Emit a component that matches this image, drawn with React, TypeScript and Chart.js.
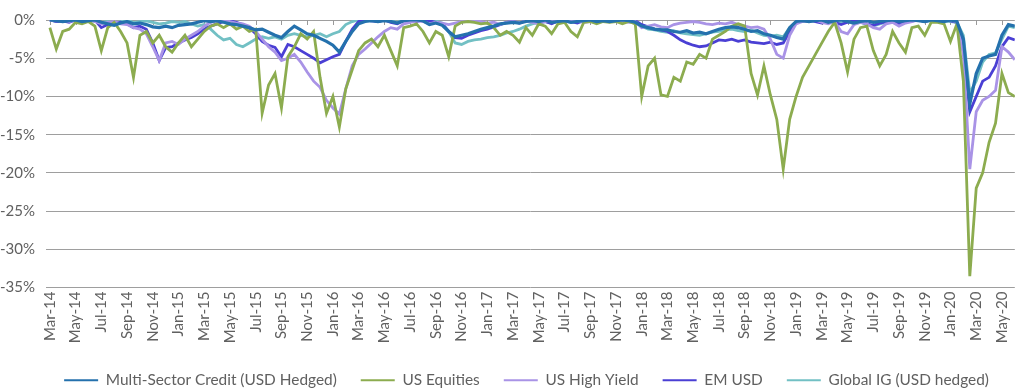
import React, { useEffect, useRef } from 'react';
import { Chart, registerables } from 'chart.js';

Chart.register(...registerables);

// x positions: one value every half month, starting Mar-14 (month 0)
const STEP_MONTHS = 0.5;

const tickLabels = [
  'Mar-14', 'May-14', 'Jul-14', 'Sep-14', 'Nov-14',
  'Jan-15', 'Mar-15', 'May-15', 'Jul-15', 'Sep-15', 'Nov-15',
  'Jan-16', 'Mar-16', 'May-16', 'Jul-16', 'Sep-16', 'Nov-16',
  'Jan-17', 'Mar-17', 'May-17', 'Jul-17', 'Sep-17', 'Nov-17',
  'Jan-18', 'Mar-18', 'May-18', 'Jul-18', 'Sep-18', 'Nov-18',
  'Jan-19', 'Mar-19', 'May-19', 'Jul-19', 'Sep-19', 'Nov-19',
  'Jan-20', 'Mar-20', 'May-20',
];

const multiSector = [
  0, -0.1, -0.2, -0.1, 0, -0.2, -0.1, 0, -0.3, -0.5,
  -0.7, -0.4, -0.2, -0.5, -0.4, -0.6, -0.9, -1.0, -0.8, -1.0,
  -0.7, -0.6, -0.5, -0.3, -0.1, -0.2, -0.1, -0.3, -0.5, -0.6,
  -0.8, -1.0, -1.3, -1.2, -1.6, -2.0, -2.3, -1.5, -0.8, -1.3,
  -1.8, -2.0, -2.4, -2.8, -3.3, -4.2, -2.8, -1.5, -0.5, -0.2,
  -0.1, -0.2, -0.1, -0.2, -0.4, -0.1, 0, 0, -0.1, -0.6,
  -0.4, -0.7, -1.5, -2.2, -2.0, -1.8, -1.5, -1.2, -1.0, -0.8,
  -0.5, -0.4, -0.3, -0.4, -0.2, -0.1, -0.2, 0, -0.3, -0.2,
  -0.1, -0.3, -0.2, -0.1, 0, -0.2, -0.1, -0.2, -0.1, 0,
  -0.1, -0.3, -0.8, -1.0, -1.2, -1.3, -1.3, -1.5, -1.6, -1.4,
  -1.7, -1.6, -1.8, -1.5, -1.2, -1.0, -0.9, -1.0, -1.2, -1.5,
  -1.4, -1.8, -2.0, -2.3, -2.5, -1.0, -0.2, -0.1, -0.2, -0.1,
  0, -0.3, -0.1, 0, -0.2, -0.4, -0.2, -0.1, -0.3, -0.2,
  -0.1, 0, -0.2, -0.1, 0, -0.1, -0.2, 0, -0.1, -0.2,
  0, -0.2, -2.5, -11.0, -7.0, -5.0, -4.7, -4.5, -2.0, -0.6,
  -0.8,
];

const usEquities = [
  -1.0, -3.8, -1.5, -1.2, -0.3, -0.5, -0.2, -0.8, -4.0, -1.0,
  -0.3, -1.5, -3.0, -7.5, -2.0, -1.5, -3.0, -2.0, -3.5, -4.2,
  -3.0, -2.0, -3.5, -2.5, -1.5, -0.8, -0.5, -1.0, -0.5, -1.2,
  -0.8, -1.5, -1.2, -12.2, -8.5, -7.0, -11.5, -4.8, -3.5, -1.8,
  -2.5, -1.5, -7.5, -12.2, -10.0, -14.0, -9.0, -6.5, -4.0, -3.0,
  -2.5, -3.5, -2.0, -4.0, -6.0, -1.0, -0.8, -0.5, -1.5, -3.0,
  -1.5, -2.0, -4.8, -0.8, -0.3, -0.2, -0.3, -0.5, -0.4, -1.0,
  -2.0, -1.5, -2.0, -2.9, -1.0, -2.0, -0.5, -0.8, -1.8, -0.5,
  -0.3, -1.5, -2.2, -0.3, -0.2, -0.5, -0.2, -0.3, -0.2, -0.5,
  -0.2, -0.5, -10.0, -6.0, -5.0, -9.8, -10.0, -7.5, -8.0, -5.5,
  -5.8, -4.5, -5.0, -2.5, -2.0, -1.5, -0.8, -0.5, -0.8, -7.0,
  -9.8, -6.0, -9.8, -13.0, -19.5, -13.0, -10.0, -7.5, -6.0, -4.5,
  -3.0, -1.5, -0.3, -3.0, -6.8, -2.5, -1.0, -0.8, -4.0, -6.0,
  -4.5, -1.5, -3.0, -4.2, -1.0, -0.8, -2.0, -0.3, -0.3, -0.5,
  -2.8, -0.5, -8.0, -33.5, -22.0, -20.0, -16.0, -13.5, -7.0, -9.5,
  -10.0,
];

const usHighYield = [
  0, -0.1, 0, -0.2, 0, -0.1, 0, -0.2, -0.5, -0.3,
  -0.2, -0.5, -0.6, -1.0, -1.2, -1.8, -3.5, -5.3, -3.0, -2.8,
  -3.2, -2.5, -2.0, -1.5, -0.8, -0.3, -0.1, 0, -0.2, -0.4,
  -0.5, -0.8, -1.5, -2.5, -3.5, -4.2, -5.3, -5.0, -4.5, -5.5,
  -6.8, -8.0, -8.8, -10.5, -11.5, -12.3, -9.0, -6.0, -4.5, -3.8,
  -3.0, -2.2, -1.5, -1.0, -1.2, -0.5, -0.3, -0.1, -0.2, -0.5,
  -0.3, -0.4, -0.6, -0.4, -0.2, -0.1, 0, -0.2, -0.4, -0.3,
  -0.6, -0.3, -0.2, -0.4, -0.1, -0.3, -0.5, -0.2, 0, -0.1,
  -0.2, 0, -0.1, -0.3, -0.2, 0, -0.1, 0, -0.2, -0.1,
  -0.3, -0.2, -1.0, -0.8, -0.6, -0.9, -1.0, -0.6, -0.4, -0.3,
  -0.2, -0.3, -0.5, -0.6, -0.4, -0.5, -0.3, -0.6, -0.8, -1.0,
  -0.9, -1.2, -2.5, -4.5, -5.0, -2.0, -0.5, -0.2, -0.1, 0,
  -0.3, -0.5, -0.2, -1.5, -1.8, -0.6, -0.3, -0.5, -1.0, -1.2,
  -0.5, -0.3, -0.8, -0.4, -0.2, 0, -0.1, 0, -0.2, -0.1,
  0, -0.3, -4.5, -19.5, -12.0, -10.5, -10.0, -9.2, -3.5, -4.2,
  -5.2,
];

const emUsd = [
  0, -0.2, -0.1, -0.3, 0, -0.1, -0.2, 0, -1.0, -0.6,
  -0.4, -0.3, -0.5, -1.0, -0.8, -1.2, -3.0, -5.3, -3.6, -3.5,
  -3.0, -2.6, -2.3, -1.8, -1.2, -0.8, -0.5, -0.2, -0.1, -0.3,
  -0.6, -1.0, -1.8, -2.8, -3.3, -3.6, -4.8, -3.2, -3.5, -4.0,
  -4.5, -5.0, -5.6, -5.2, -4.8, -4.5, -2.8, -1.2, -0.2, 0,
  -0.1, -0.2, 0, -0.3, -0.5, -0.1, 0, -0.2, 0, -0.1,
  -0.3, -0.5, -1.5, -2.3, -2.4, -2.0, -1.7, -1.4, -1.2, -0.9,
  -0.6, -0.3, -0.2, -0.4, -0.1, 0, -0.3, -0.2, -0.5, -0.1,
  0, -0.2, -0.4, -0.1, 0, -0.2, -0.1, 0, -0.2, -0.1,
  0, -0.1, -0.6, -0.9, -1.2, -1.3, -1.5, -2.0, -2.6, -3.0,
  -3.3, -3.5, -3.4, -3.0, -2.6, -2.7, -2.5, -2.8, -2.6, -2.9,
  -3.0, -3.1, -2.9, -3.2, -3.0, -1.5, -0.3, -0.1, 0, -0.2,
  -0.4, -0.2, -0.3, -0.6, -0.3, -0.1, -0.2, -0.5, -0.7, -0.4,
  -0.2, -0.3, -0.5, -0.2, -0.1, 0, -0.2, 0, -0.1, 0,
  -0.1, -0.3, -3.5, -12.0, -10.0, -8.0, -7.5, -6.0, -3.5, -2.3,
  -2.6,
];

const globalIG = [
  0, -0.2, -0.1, 0, -0.1, 0, -0.2, -0.1, -0.3, -0.2,
  -0.4, -0.2, 0, -0.3, -0.2, -0.1, -0.3, -0.5, -0.4, -0.2,
  -0.3, -0.2, -0.5, -0.8, -0.6, -1.2, -2.0, -2.6, -2.4, -3.2,
  -3.5, -3.0, -2.5, -2.2, -2.4, -2.2, -2.5, -2.0, -1.8, -2.0,
  -2.2, -2.0, -1.8, -2.2, -1.8, -1.5, -0.6, -0.2, 0, -0.1,
  0, -0.2, 0, -0.1, -0.3, 0, 0, -0.1, 0, -0.2,
  -0.1, -0.4, -1.5, -3.0, -3.2, -2.8, -2.6, -2.5, -2.3, -2.2,
  -2.0, -1.7, -1.5, -1.2, -0.8, -0.5, -0.3, -0.2, -0.4, -0.2,
  -0.1, -0.3, -0.1, 0, -0.2, -0.3, -0.1, -0.2, 0, -0.1,
  -0.2, -0.4, -0.8, -1.2, -1.3, -1.5, -1.6, -1.4, -1.7, -1.8,
  -1.9, -2.0, -1.8, -1.6, -1.5, -1.3, -1.2, -1.4, -1.5, -1.3,
  -1.7, -2.0, -2.1, -2.0, -2.2, -1.0, -0.2, -0.1, -0.2, 0,
  -0.1, -0.3, -0.2, -0.4, -0.2, -0.5, -0.3, -0.6, -0.8, -0.5,
  -0.3, -0.2, -0.4, -0.2, -0.1, 0, -0.2, -0.1, 0, -0.1,
  -0.2, -0.3, -2.0, -9.5, -8.0, -5.5, -4.5, -4.3, -2.5, -0.8,
  -1.0,
];

const seriesNames = [
  'Multi-Sector Credit (USD Hedged)',
  'US Equities',
  'US High Yield',
  'EM USD',
  'Global IG (USD hedged)',
];
const seriesColors = ['#2471ad', '#8cac4f', '#a993e6', '#4a3fd4', '#72c0c4'];
const seriesValues = [multiSector, usEquities, usHighYield, emUsd, globalIG];

const TEXT = '#606060';
const FONT = 'Lato, "Open Sans", sans-serif';

export default function App() {
  const ref = useRef<HTMLCanvasElement | null>(null);

  useEffect(() => {
    document.body.style.margin = '0';
    const canvas = ref.current;
    if (!canvas) return;

    const axisTicksPlugin = {
      id: 'axisTicks',
      afterLayout(chart: any) {
        if (chart.legend) {
          chart.legend.left += 16;
          chart.legend.right += 16;
        }
      },
      beforeDatasetsDraw(chart: any) {
        const xs = chart.scales.x;
        const ys = chart.scales.y;
        const ctx = chart.ctx;
        const y0 = ys.getPixelForValue(0);
        ctx.save();
        ctx.strokeStyle = '#9a9a9a';
        ctx.lineWidth = 1;
        ctx.beginPath();
        tickLabels.forEach((_, i) => {
          const x = Math.round(xs.getPixelForValue(i * 2)) + 0.5;
          ctx.moveTo(x, y0);
          ctx.lineTo(x, y0 + 5);
        });
        ctx.stroke();
        ctx.restore();
      },
    };

    const chart = new Chart(canvas, {
      type: 'line',
      data: {
        datasets: seriesValues.map((vals, si) => ({
          label: seriesNames[si],
          data: vals.map((y, i) => ({ x: i * STEP_MONTHS, y })),
          borderColor: seriesColors[si],
          backgroundColor: seriesColors[si],
          borderWidth: si === 0 ? 3.2 : 2.8,
          pointRadius: 0,
          tension: 0,
          fill: false,
        })),
      },
      options: {
        animation: false,
        responsive: false,
        devicePixelRatio: 1,
        layout: { padding: { top: 10, bottom: -8, left: 0, right: 3 } },
        plugins: {
          tooltip: { enabled: false },
          legend: {
            position: 'bottom',
            labels: {
              boxWidth: 34,
              boxHeight: 2,
              padding: 24,
              color: TEXT,
              font: { family: FONT, size: 15.4 },
              generateLabels: (c: any) =>
                c.data.datasets.map((ds: any, i: number) => ({
                  text: ds.label,
                  fillStyle: ds.borderColor,
                  strokeStyle: ds.borderColor,
                  lineWidth: 0,
                  hidden: false,
                  datasetIndex: i,
                  fontColor: TEXT,
                })),
            },
          },
        },
        scales: {
          x: {
            type: 'linear',
            min: -0.3,
            max: 75,
            afterBuildTicks: (s: any) => {
              s.ticks = tickLabels.map((_, i) => ({ value: i * 2 }));
            },
            afterFit: (s: any) => {
              s.height = 61;
            },
            ticks: {
              autoSkip: false,
              minRotation: 90,
              maxRotation: 90,
              padding: 4,
              color: TEXT,
              font: { family: FONT, size: 15 },
              callback: (v: any) => tickLabels[Math.round(Number(v) / 2)] ?? '',
            },
            grid: { display: false, drawTicks: false },
            border: { display: false },
          },
          y: {
            min: -35,
            max: 0,
            afterFit: (s: any) => {
              s.width = 46;
            },
            ticks: {
              stepSize: 5,
              padding: 11,
              color: TEXT,
              font: { family: FONT, size: 15 },
              callback: (v: any) => `${v}%`,
            },
            grid: { color: '#9e9e9e', lineWidth: 1, drawTicks: false },
            border: { display: false },
          },
        },
      },
      plugins: [axisTicksPlugin],
    } as any);

    return () => chart.destroy();
  }, []);

  return (
    <canvas
      ref={ref}
      width={1024}
      height={390}
      style={{ display: 'block', width: 1024, height: 390 }}
    />
  );
}
